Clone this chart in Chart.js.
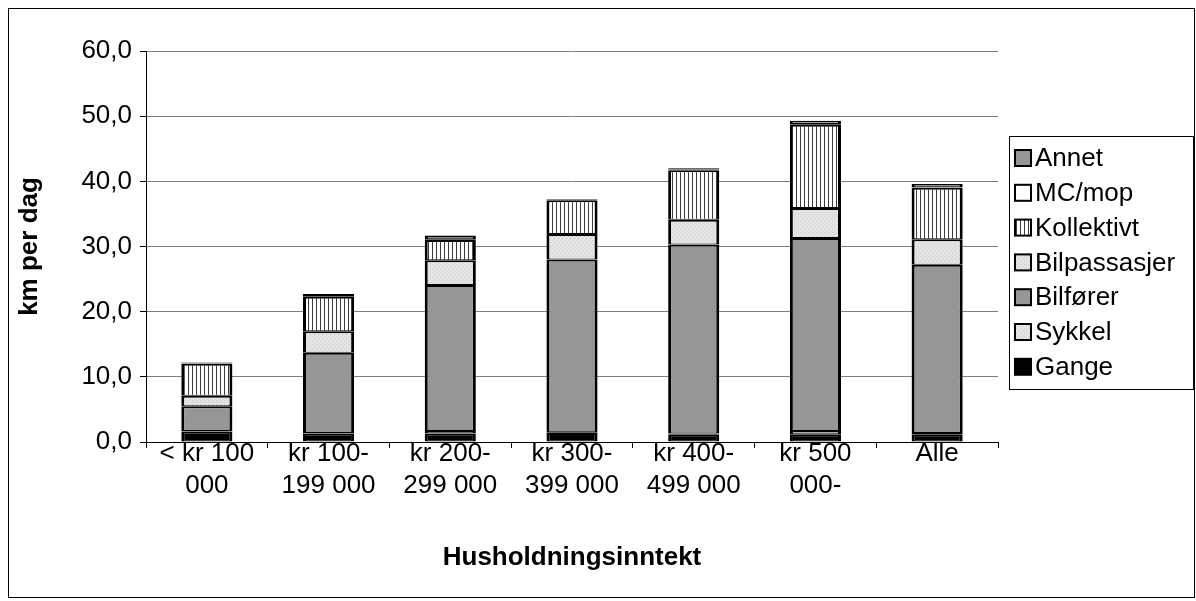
<!DOCTYPE html>
<html>
<head>
<meta charset="utf-8">
<script src="https://cdn.jsdelivr.net/npm/chart.js@4/dist/chart.umd.min.js"></script>
<style>
  html, body { margin: 0; padding: 0; background: #fff; }
  #wrap { width: 1196px; height: 601px; }
</style>
</head>
<body>
<div id="wrap"><canvas id="c" width="1196" height="601"></canvas></div>
<script>
// Daily travel distance (km per dag) by household income, split by mode
const categories = [
  ['< kr 100', '000'],
  ['kr 100-', '199 000'],
  ['kr 200-', '299 000'],
  ['kr 300-', '399 000'],
  ['kr 400-', '499 000'],
  ['kr 500', '000-'],
  ['Alle']
];
const gange        = [1.6, 1.3, 1.3, 1.4, 1.2, 1.2, 1.2];
const sykkel       = [0.1, 0.1, 0.4, 0.1, 0.1, 0.5, 0.2];
const bilforer     = [3.8, 12.3, 22.4, 26.5, 29.0, 29.6, 25.8];
const bilpassasjer = [1.6, 3.3, 3.8, 3.9, 3.8, 4.6, 3.9];
const kollektivt   = [4.9, 5.3, 3.1, 5.2, 7.6, 12.8, 7.9];
const mcMop        = [0.1, 0.1, 0.1, 0.1, 0.1, 0.1, 0.1];
const annet        = [0.1, 0.3, 0.6, 0.1, 0.2, 0.5, 0.5];
const yTicks = [0, 10, 20, 30, 40, 50, 60];

const FONT = 'Liberation Sans, Arial, sans-serif';
const FS = 26;

// Fill patterns: vertical hatching and a fine light dot texture
function makePattern(w, h, draw) {
  const c = document.createElement('canvas');
  c.width = w; c.height = h;
  const g = c.getContext('2d');
  draw(g);
  return document.getElementById('c').getContext('2d').createPattern(c, 'repeat');
}
const hatch = makePattern(4, 4, g => {
  g.fillStyle = '#ffffff'; g.fillRect(0, 0, 4, 4);
  g.fillStyle = '#3c3c3c'; g.fillRect(0, 0, 1, 4);
});
const dots = makePattern(4, 4, g => {
  g.fillStyle = '#e4e4e4'; g.fillRect(0, 0, 4, 4);
  g.fillStyle = '#cacaca'; g.fillRect(0, 0, 1, 1); g.fillRect(2, 2, 1, 1);
});

const segBorder = { top: 2, bottom: 1, left: 3, right: 3 };
function ds(label, data, fill) {
  return {
    label, data,
    backgroundColor: fill,
    borderColor: '#000',
    borderWidth: segBorder,
    borderSkipped: false,
    barPercentage: 0.42,
    categoryPercentage: 1.0
  };
}
const datasets = [
  ds('Gange', gange, '#000000'),
  ds('Sykkel', sykkel, dots),
  ds('Bilfører', bilforer, '#969696'),
  ds('Bilpassasjer', bilpassasjer, dots),
  ds('Kollektivt', kollektivt, hatch),
  ds('MC/mop', mcMop, '#ffffff'),
  ds('Annet', annet, '#969696')
];

// Outer frame and boxed legend (top entry = top of stack)
const decor = {
  id: 'decor',
  afterDraw(chart) {
    const g = chart.ctx;
    g.save();
    g.strokeStyle = '#000';
    g.lineWidth = 1;
    g.strokeRect(8.5, 8.5, 1186, 589);

    const bx = 1009.5, by = 136.5, bw = 184, bh = 253;
    g.strokeRect(bx, by, bw, bh);
    const items = chart.data.datasets.slice().reverse();
    const y0 = 158, step = 34.8;
    g.font = FS + 'px ' + FONT;
    g.textBaseline = 'middle';
    items.forEach((d, i) => {
      const cy = y0 + i * step;
      g.fillStyle = d.backgroundColor;
      g.fillRect(1015, cy - 8, 16, 16);
      g.strokeStyle = '#000';
      g.lineWidth = 2;
      g.strokeRect(1015, cy - 8, 16, 16);
      g.fillStyle = '#000';
      g.fillText(d.label, 1035, cy + 1);
    });
    g.restore();
  }
};

new Chart(document.getElementById('c'), {
  type: 'bar',
  data: { labels: categories, datasets },
  options: {
    responsive: false,
    animation: false,
    devicePixelRatio: 1,
    layout: { padding: { left: 0, right: 198, top: 51, bottom: 0 } },
    scales: {
      x: {
        stacked: true,
        grid: { offset: true, drawOnChartArea: false, drawTicks: true, tickLength: 6, color: '#000' },
        border: { color: '#000', width: 1 },
        ticks: {
          color: '#000', maxRotation: 0, autoSkip: false, padding: -10,
          font: { family: FONT, size: FS, lineHeight: 1.23 }
        },
        title: {
          display: true, text: 'Husholdningsinntekt', color: '#000',
          font: { family: FONT, size: FS, weight: 'bold', lineHeight: 1.2 },
          padding: { top: 0, bottom: 28 }
        },
        afterFit(s) { s.height = 159; }
      },
      y: {
        stacked: true,
        min: 0, max: 60,
        afterBuildTicks(s) { s.ticks = yTicks.map(v => ({ value: v })); },
        ticks: {
          color: '#000', padding: 8,
          font: { family: FONT, size: FS },
          callback: v => v.toFixed(1).replace('.', ',')
        },
        grid: { color: '#7f7f7f', tickLength: 6, tickColor: '#000', lineWidth: 1 },
        border: { color: '#000', width: 1 },
        title: {
          display: true, text: 'km per dag', color: '#000',
          font: { family: FONT, size: FS, weight: 'bold', lineHeight: 1.2 },
          padding: { top: 14, bottom: 0 }
        },
        afterFit(s) { s.width = 146; }
      }
    },
    plugins: { legend: { display: false }, tooltip: { enabled: false } }
  },
  plugins: [decor]
});
</script>
</body>
</html>
